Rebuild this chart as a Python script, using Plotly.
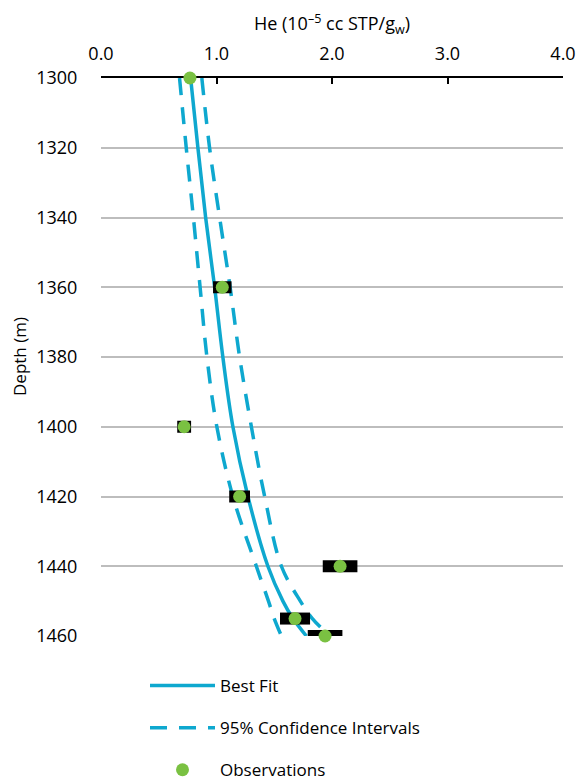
import plotly.graph_objects as go

# Fitted helium profile with depth (He in 1e-5 cc STP/g water)
depth_fit = [1300, 1320, 1340, 1360, 1380, 1400, 1420, 1440, 1450, 1455, 1460]
he_best = [0.776, 0.839, 0.906, 0.984, 1.055, 1.142, 1.272, 1.445, 1.575, 1.662, 1.778]
he_ci_low = [0.680, 0.738, 0.800, 0.858, 0.917, 1.003, 1.142, 1.345, 1.450, 1.500, 1.562]
he_ci_high = [0.873, 0.940, 1.027, 1.118, 1.200, 1.302, 1.417, 1.562, 1.726, 1.830, 1.980]

# Measured samples with analytical uncertainty
obs_depth = [1300, 1360, 1400, 1420, 1440, 1455, 1460]
obs_he = [0.77, 1.05, 0.72, 1.20, 2.07, 1.68, 1.94]
obs_err = [0.0, 0.08, 0.06, 0.09, 0.15, 0.13, 0.15]

x_ticks = [0, 1, 2, 3, 4]
y_ticks = [1300, 1320, 1340, 1360, 1380, 1400, 1420, 1440, 1460]

FIT_COLOR = "#0EA8CF"
OBS_COLOR = "#7AC142"
FONT = "Open Sans"
DASH = "17px,12px"

WIDTH, HEIGHT = 577, 783
MARGIN_L, MARGIN_R = 101, 14
PLOT_W = WIDTH - MARGIN_L - MARGIN_R

fig = go.Figure()

fig.add_trace(go.Scatter(
    x=he_best, y=depth_fit, mode="lines", name="Best Fit",
    legendgroup="fit",
    line=dict(color=FIT_COLOR, width=3.5, shape="spline"),
))
fig.add_trace(go.Scatter(
    x=he_ci_low, y=depth_fit, mode="lines", name="95% Confidence Intervals",
    legendgroup="ci",
    line=dict(color=FIT_COLOR, width=3.5, dash=DASH, shape="spline"),
))
fig.add_trace(go.Scatter(
    x=he_ci_high, y=depth_fit, mode="lines", name="95% Confidence Intervals",
    legendgroup="ci", showlegend=False,
    line=dict(color=FIT_COLOR, width=3.5, dash=DASH, shape="spline"),
))
fig.add_trace(go.Scatter(
    x=obs_he, y=obs_depth, mode="markers", name="Observations",
    legendgroup="obs", cliponaxis=False,
    marker=dict(color=OBS_COLOR, size=13),
    error_x=dict(type="data", array=obs_err, color="black", thickness=12, width=0),
))

fig.update_layout(
    width=WIDTH, height=HEIGHT,
    margin=dict(l=MARGIN_L, r=MARGIN_R, t=78, b=147, autoexpand=False),
    paper_bgcolor="white", plot_bgcolor="white",
    font=dict(family=FONT, size=18, color="black"),
    legend=dict(
        xref="container", yref="container",
        x=145 / WIDTH, y=1 - 668 / HEIGHT, xanchor="left", yanchor="top",
        itemwidth=65, tracegroupgap=17,
        font=dict(family=FONT, size=17, color="black"),
        bgcolor="rgba(0,0,0,0)",
    ),
    # Depth axis title, set vertically beside the depth labels
    annotations=[dict(
        text="Depth (m)", textangle=-90,
        xref="paper", yref="paper", x=(19 - MARGIN_L) / PLOT_W, y=0.5,
        xanchor="center", yanchor="middle", showarrow=False,
        font=dict(family=FONT, size=17, color="black"),
    )],
)

fig.update_xaxes(
    side="top", range=[0, 4], tickvals=x_ticks, tickformat=".1f",
    showline=True, linecolor="black", linewidth=2,
    ticks="inside", ticklen=6, tickwidth=2, tickcolor="black",
    ticklabelstandoff=9,
    showgrid=False, zeroline=False, layer="below traces",
    title=dict(text="He (10<sup>\u20135</sup> cc STP/g<sub>w</sub>)", standoff=5,
               font=dict(family=FONT, size=18)),
)
# Invisible outside ticks keep the depth labels clear of the grid
fig.update_yaxes(
    range=[1460, 1300], tickvals=y_ticks,
    showline=False, ticks="outside", ticklen=19, tickcolor="rgba(0,0,0,0)",
    showgrid=True, gridcolor="#BDBDBD", gridwidth=2, zeroline=False,
)

fig.write_html("out.html")
